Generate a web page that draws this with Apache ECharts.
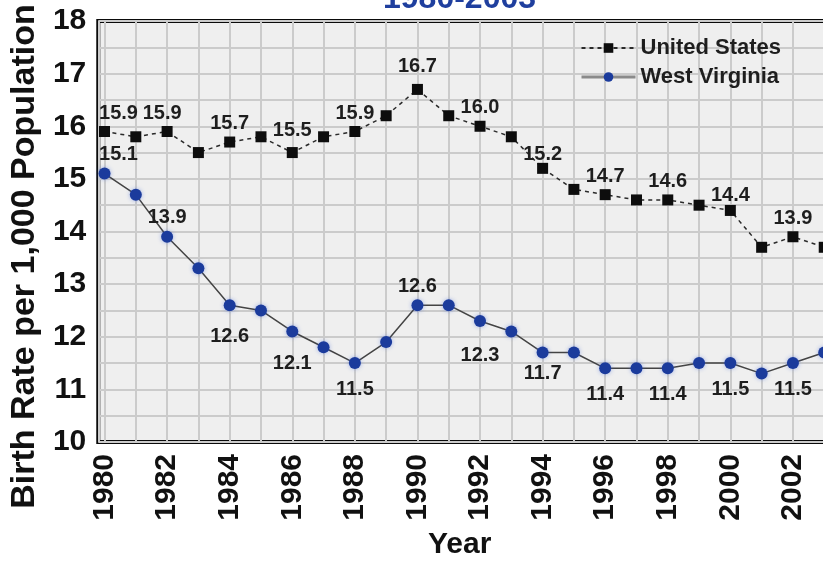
<!DOCTYPE html>
<html>
<head>
<meta charset="utf-8">
<title>Birth Rate per 1,000 Population, 1980-2003</title>
<script src="https://cdn.jsdelivr.net/npm/echarts@6/dist/echarts.min.js"></script>
<style>
  html, body { margin: 0; padding: 0; background: #ffffff; overflow: hidden; }
  /* the plot runs on past the right edge of the page */
  #chart { width: 846px; height: 571px; }
</style>
</head>
<body>
<div id="chart"></div>
<script>
// Birth rates per 1,000 population, 1980-2003
var years = [1980, 1981, 1982, 1983, 1984, 1985, 1986, 1987, 1988, 1989, 1990, 1991,
             1992, 1993, 1994, 1995, 1996, 1997, 1998, 1999, 2000, 2001, 2002, 2003];
var unitedStates = [15.9, 15.8, 15.9, 15.5, 15.7, 15.8, 15.5, 15.8, 15.9, 16.2, 16.7, 16.2,
                    16.0, 15.8, 15.2, 14.8, 14.7, 14.6, 14.6, 14.5, 14.4, 13.7, 13.9, 13.7];
var westVirginia = [15.1, 14.7, 13.9, 13.3, 12.6, 12.5, 12.1, 11.8, 11.5, 11.9, 12.6, 12.6,
                    12.3, 12.1, 11.7, 11.7, 11.4, 11.4, 11.4, 11.5, 11.5, 11.3, 11.5, 11.7];
var yTicks = [10, 11, 12, 13, 14, 15, 16, 17, 18];

// value labels are shown on even years; West Virginia labels sit below the
// points except where the curve is at a local high
var wvLabelAbove = [1980, 1982, 1990];
// small nudges [dx, dy] that keep labels clear of the lines
var usNudge = { 1980: [14, 0], 1982: [-5, 0], 1986: [0, -4], 1990: [0, -4], 1994: [0, 5], 2000: [0, 4] };
var wvNudge = { 1980: [14, 0], 1984: [0, 5], 1986: [0, 6], 1992: [0, 9], 1994: [0, -5] };

var FONT = '"Liberation Sans", Arial, Helvetica, sans-serif';

function buildPoints(values, nudges, aboveYears, allAbove) {
  return years.map(function (yr, i) {
    var above = allAbove || aboveYears.indexOf(yr) >= 0;
    var n = nudges[yr] || [0, 0];
    return {
      value: [yr, values[i]],
      label: {
        show: yr % 2 === 0,
        position: above ? 'top' : 'bottom',
        distance: above ? 3 : 10,
        offset: n
      }
    };
  });
}

var chart = echarts.init(document.getElementById('chart'), null, { renderer: 'canvas' });

var valueLabel = {
  fontFamily: FONT,
  fontWeight: 'bold',
  fontSize: 20,
  color: '#1e1e1e',
  formatter: function (p) { return p.value[1].toFixed(1); }
};

chart.setOption({
  animation: false,
  backgroundColor: '#ffffff',
  title: {
    text: '1980-2003',
    left: 378,
    top: -22,
    textStyle: { fontFamily: FONT, fontWeight: 'bold', fontSize: 32, color: '#1f3f9e' }
  },
  legend: {
    orient: 'vertical',
    left: 575,
    top: 32,
    itemWidth: 54,
    itemHeight: 12,
    itemGap: 7,
    textStyle: { fontFamily: FONT, fontWeight: 'bold', fontSize: 22, color: '#1e1e1e' },
    data: [
      { name: 'United States' },
      { name: 'West Virginia', lineStyle: { color: '#8a8a8a', width: 3 } }
    ]
  },
  grid: {
    show: true,
    left: 96,
    top: 21,
    right: 3,
    bottom: 129,
    backgroundColor: '#efefef',
    borderColor: '#0a0a0a',
    borderWidth: 4
  },
  xAxis: {
    type: 'value',
    min: 1979.8,
    max: 2003.6,
    minInterval: 1,
    maxInterval: 1,
    name: 'Year',
    nameLocation: 'middle',
    nameGap: 88,
    nameTextStyle: { fontFamily: FONT, fontWeight: 'bold', fontSize: 30, color: '#111', padding: [0, 22, 0, 0] },
    axisLine: { show: false },
    axisTick: { show: false },
    axisLabel: {
      rotate: 90,
      margin: 12,
      fontFamily: FONT,
      fontWeight: 'bold',
      fontSize: 30,
      color: '#111',
      showMinLabel: false,
      showMaxLabel: false,
      formatter: function (v) {
        return (Number.isInteger(v) && v % 2 === 0) ? String(v) : '';
      }
    },
    splitLine: { show: true, lineStyle: { color: '#cbcbcb', width: 2 } }
  },
  yAxis: {
    type: 'value',
    min: yTicks[0],
    max: yTicks[yTicks.length - 1],
    interval: 0.5,
    name: 'Birth Rate per 1,000 Population',
    nameLocation: 'middle',
    nameGap: 53,
    nameTextStyle: { fontFamily: FONT, fontWeight: 'bold', fontSize: 34, color: '#111', padding: [0, 50, 0, 0] },
    axisLine: { show: false },
    axisTick: { show: false },
    axisLabel: {
      margin: 12,
      fontFamily: FONT,
      fontWeight: 'bold',
      fontSize: 30,
      color: '#111',
      formatter: function (v) { return yTicks.indexOf(v) >= 0 ? String(v) : ''; }
    },
    splitLine: { show: true, lineStyle: { color: '#cbcbcb', width: 2 } }
  },
  series: [
    {
      name: 'United States',
      type: 'line',
      symbol: 'rect',
      symbolSize: 11,
      z: 3,
      itemStyle: { color: '#0d0d0d' },
      lineStyle: { color: '#2a2a2a', width: 1.5, type: [4, 4] },
      label: valueLabel,
      data: buildPoints(unitedStates, usNudge, [], true)
    },
    {
      name: 'West Virginia',
      type: 'line',
      symbol: 'circle',
      symbolSize: 12,
      z: 2,
      itemStyle: { color: '#1b3b9c', shadowBlur: 4, shadowColor: 'rgba(60,100,220,0.45)' },
      lineStyle: { color: '#444444', width: 1.5 },
      label: valueLabel,
      data: buildPoints(westVirginia, wvNudge, wvLabelAbove, false)
    }
  ]
});
</script>
</body>
</html>
